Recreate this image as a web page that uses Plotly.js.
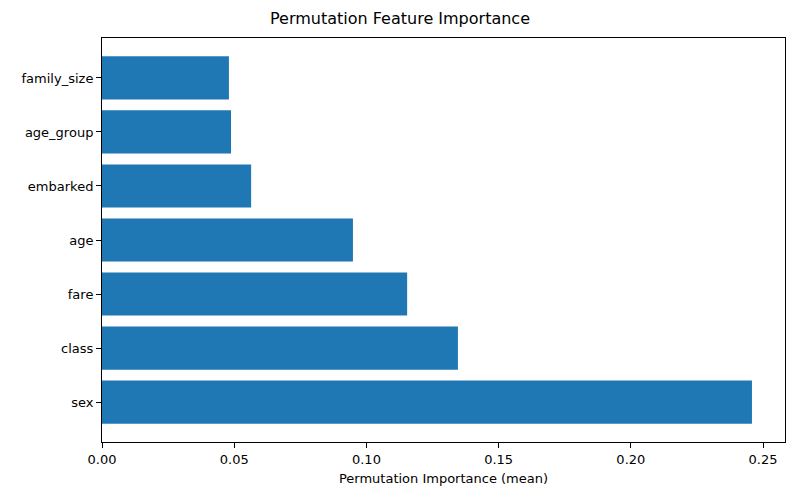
<!DOCTYPE html>
<html>
<head>
<meta charset="utf-8">
<script src="https://cdn.plot.ly/plotly-3.0.1.min.js"></script>
<style>body{margin:0;background:#fff}</style>
</head>
<body>
<div id="chart" style="width:800px;height:500px"></div>
<script>
// features, bottom to top as drawn
var features = ["sex", "class", "fare", "age", "embarked", "age_group", "family_size"];
var importance = [0.2458, 0.1346, 0.1154, 0.0949, 0.0564, 0.0488, 0.0480];
var xTicks = [0, 0.05, 0.10, 0.15, 0.20, 0.25];
var xTickText = ["0.00", "0.05", "0.10", "0.15", "0.20", "0.25"];

var data = [{
  type: "bar",
  orientation: "h",
  x: importance,
  y: features,
  width: 0.8,
  marker: {color: "#1f77b4"},
  hoverinfo: "x+y"
}];

var axisStyle = {
  showline: true, mirror: true, linecolor: "#000", linewidth: 1,
  ticks: "outside", ticklen: 5, tickcolor: "#000",
  showgrid: false, zeroline: false
};

var layout = {
  width: 800, height: 500,
  margin: {l: 102, r: 15, t: 38, b: 58},
  paper_bgcolor: "#fff", plot_bgcolor: "#fff",
  font: {family: "DejaVu Sans", size: 13, color: "#000"},
  title: {text: "Permutation Feature Importance", font: {size: 16}, x: 0.5, y: 0.975, yanchor: "top"},
  showlegend: false,
  xaxis: Object.assign({}, axisStyle, {
    range: [0, 0.2583],
    tickvals: xTicks, ticktext: xTickText,
    title: {text: "Permutation Importance (mean)", font: {size: 13}, standoff: 8}
  }),
  yaxis: Object.assign({}, axisStyle, {
    range: [-0.74, 6.74]
  })
};

Plotly.newPlot("chart", data, layout, {displayModeBar: false});
</script>
</body>
</html>
